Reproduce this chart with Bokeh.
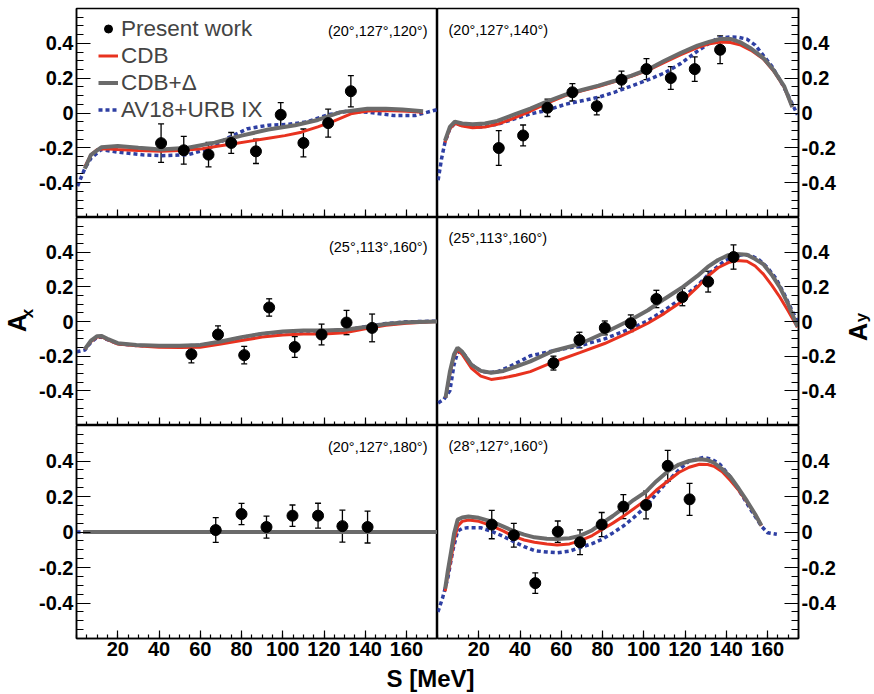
import math
from bokeh.plotting import figure
from bokeh.layouts import column, row
from bokeh.models import (Range1d, FixedTicker, Label, Legend, LegendItem,
                          Whisker, TeeHead, ColumnDataSource)
from bokeh.embed import file_html
from bokeh.resources import INLINE

# ---------------- axis ticks ----------------
S_TICKS = [20, 40, 60, 80, 100, 120, 140, 160]
S_TICK_LABELS = ["20", "40", "60", "80", "100", "120", "140", "160"]
A_TICKS = [-0.4, -0.2, 0.0, 0.2, 0.4]
A_TICK_LABELS = ["-0.4", "-0.2", "0", "0.2", "0.4"]
S_MINOR = [5 * i for i in range(36)]
A_MINOR = [round(-0.6 + 0.05 * i, 2) for i in range(25)]

PANEL_TITLES = ["(20°,127°,120°)", "(20°,127°,140°)",
                "(25°,113°,160°)", "(25°,113°,160°)",
                "(20°,127°,180°)", "(28°,127°,160°)"]

# ---------------- panel 1: A_x (20,127,120) ----------------
p1_s = [41, 52, 64, 75, 87, 99, 110, 122, 133]
p1_a = [-0.173, -0.214, -0.239, -0.172, -0.22, -0.01, -0.172, -0.058, 0.125]
p1_e = [0.11, 0.08, 0.07, 0.06, 0.07, 0.07, 0.08, 0.08, 0.09]
p1_cdb_s = [4, 7, 10, 14, 20, 30, 41, 50, 61, 69, 77, 85, 93, 101, 109, 117, 125, 133, 141, 150, 160, 168]
p1_cdb = [-0.31, -0.24, -0.21, -0.205, -0.21, -0.215, -0.22, -0.215, -0.205, -0.19, -0.175, -0.16,
          -0.145, -0.13, -0.11, -0.08, -0.045, -0.005, 0.012, 0.015, 0.01, 0.005]
p1_cdbd_s = [4, 7, 12, 20, 30, 41, 54, 67, 75, 80, 93, 106, 117, 128, 141, 150, 158, 168]
p1_cdbd = [-0.32, -0.24, -0.197, -0.19, -0.2, -0.21, -0.2, -0.17, -0.145, -0.13, -0.095, -0.07,
           -0.04, 0.005, 0.025, 0.025, 0.02, 0.01]
p1_av_s = [0.5, 4, 7, 12, 20, 32, 41, 54, 64, 74, 83, 93, 103, 112, 122, 131, 141, 154, 164, 175]
p1_av = [-0.42, -0.32, -0.26, -0.21, -0.225, -0.24, -0.245, -0.24, -0.205, -0.14, -0.09, -0.07,
         -0.065, -0.05, -0.01, 0.01, 0.005, -0.015, -0.015, 0.02]

# ---------------- panel 2: A_y (20,127,140) ----------------
p2_s = [29.7, 41.5, 53.3, 65.4, 77.2, 89.2, 101.3, 113.1, 124.7, 137]
p2_a = [-0.201, -0.129, 0.03, 0.119, 0.039, 0.191, 0.252, 0.201, 0.252, 0.363]
p2_e = [0.10, 0.06, 0.05, 0.05, 0.05, 0.05, 0.06, 0.065, 0.07, 0.08]
p2_cdb_s = [3.6, 6, 8.4, 12, 17, 23, 29, 37, 45, 53, 62, 70, 78, 86, 94, 102, 110, 118, 126, 132,
            137, 142, 147, 152, 158, 163, 168, 172]
p2_cdb = [-0.17, -0.09, -0.06, -0.075, -0.085, -0.08, -0.065, -0.03, 0.01, 0.055, 0.1, 0.128, 0.152,
          0.18, 0.21, 0.245, 0.29, 0.335, 0.375, 0.398, 0.408, 0.405, 0.39, 0.36, 0.31, 0.24, 0.15, 0.035]
p2_cdbd_s = p2_cdb_s
p2_cdbd = [-0.16, -0.08, -0.05, -0.06, -0.065, -0.06, -0.045, -0.01, 0.025, 0.065, 0.105, 0.132, 0.157,
           0.185, 0.215, 0.25, 0.3, 0.345, 0.387, 0.41, 0.425, 0.425, 0.405, 0.37, 0.315, 0.245, 0.155, 0.035]
p2_av_s = [0.3, 2, 3.6, 6, 8.4, 12, 17, 21, 29, 37, 45, 53, 62, 70, 78, 86, 94, 102, 110, 118, 126,
           131, 136, 142, 146, 150, 154, 158, 162, 166, 170, 174.5]
p2_av = [-0.386, -0.26, -0.17, -0.09, -0.06, -0.07, -0.08, -0.08, -0.065, -0.035, -0.005, 0.015, 0.05,
         0.07, 0.09, 0.12, 0.155, 0.19, 0.23, 0.285, 0.355, 0.395, 0.43, 0.437, 0.435, 0.424, 0.39,
         0.33, 0.27, 0.19, 0.1, -0.01]

# ---------------- panel 3: A_x (25,113,160) ----------------
p3_s = [55.7, 68.6, 81.3, 93.4, 105.8, 118.8, 130.9, 143.3]
p3_a = [-0.189, -0.075, -0.194, 0.081, -0.147, -0.075, -0.006, -0.037]
p3_e = [0.05, 0.05, 0.05, 0.05, 0.06, 0.06, 0.07, 0.08]
p3_cdb_s = [4, 7, 10, 12, 15, 20, 29, 40, 50, 60, 70, 80, 90, 100, 110, 120, 130, 140, 150, 160, 175]
p3_cdb = [-0.16, -0.115, -0.09, -0.088, -0.105, -0.13, -0.14, -0.148, -0.15, -0.148, -0.13, -0.11,
          -0.09, -0.078, -0.072, -0.072, -0.065, -0.042, -0.022, -0.01, 0.0]
p3_cdbd_s = p3_cdb_s
p3_cdbd = [-0.16, -0.11, -0.085, -0.083, -0.1, -0.125, -0.135, -0.14, -0.14, -0.135, -0.115, -0.09,
           -0.07, -0.058, -0.052, -0.052, -0.048, -0.032, -0.015, -0.005, 0.0]
p3_av_s = [0, 4, 7, 10, 12, 15, 20, 29, 40, 50, 60, 70, 80, 90, 100, 110, 120, 130, 140, 150, 160, 175]
p3_av = [-0.175, -0.165, -0.12, -0.092, -0.09, -0.105, -0.128, -0.138, -0.142, -0.142, -0.137, -0.118,
         -0.092, -0.072, -0.06, -0.055, -0.055, -0.05, -0.03, -0.012, -0.002, 0.002]

# ---------------- panel 4: A_y (25,113,160) ----------------
p4_s = [56.2, 68.8, 81.1, 93.7, 106.1, 118.7, 131.2, 143.5]
p4_a = [-0.24, -0.107, -0.037, -0.01, 0.13, 0.141, 0.23, 0.372]
p4_e = [0.04, 0.045, 0.04, 0.048, 0.05, 0.05, 0.06, 0.07]
p4_cdb_s = [3.9, 6, 8, 9.7, 12, 16.5, 21, 26, 32, 38, 45, 56, 69, 81, 94, 102, 110, 119, 126, 131,
            136, 141, 145, 150, 154, 158, 162, 166, 170, 174.5]
p4_cdb = [-0.44, -0.3, -0.2, -0.164, -0.19, -0.27, -0.315, -0.334, -0.325, -0.31, -0.289, -0.235,
          -0.18, -0.127, -0.057, -0.01, 0.047, 0.12, 0.198, 0.26, 0.31, 0.34, 0.352, 0.348, 0.32,
          0.273, 0.21, 0.14, 0.06, -0.033]
p4_cdbd_s = p4_cdb_s
p4_cdbd = [-0.44, -0.29, -0.19, -0.151, -0.175, -0.25, -0.285, -0.296, -0.285, -0.26, -0.23, -0.17,
           -0.13, -0.065, 0.012, 0.065, 0.13, 0.2, 0.263, 0.315, 0.355, 0.383, 0.39, 0.385, 0.36,
           0.33, 0.27, 0.197, 0.1, -0.03]
p4_av_s = [0.3, 3, 6, 8, 9.7, 11, 13, 16.5, 21, 25, 29, 35, 45, 56, 69, 81, 94, 102, 110, 119, 126,
           132, 139, 144, 148, 152, 156, 160, 164, 168, 172, 174.5]
p4_av = [-0.47, -0.45, -0.40, -0.25, -0.18, -0.17, -0.19, -0.25, -0.285, -0.295, -0.29, -0.26, -0.198,
         -0.17, -0.14, -0.10, -0.04, 0.005, 0.065, 0.14, 0.207, 0.28, 0.348, 0.375, 0.386, 0.38,
         0.355, 0.31, 0.25, 0.16, 0.06, 0.0]

# ---------------- panel 5: A_x (20,127,180) ----------------
p5_s = [67.5, 80, 92.1, 104.7, 117.1, 128.9, 141.1]
p5_a = [0.011, 0.101, 0.028, 0.092, 0.092, 0.033, 0.028]
p5_e = [0.07, 0.06, 0.062, 0.06, 0.07, 0.09, 0.09]
p5_cdb_s = [3.2, 175]
p5_cdb = [0.0, 0.0]
p5_cdbd_s = [3.2, 175]
p5_cdbd = [0.0, 0.0]
p5_av_s = [0, 175]
p5_av = [0.0, 0.0]

# ---------------- panel 6: A_y (28,127,160) ----------------
p6_s = [26.3, 37, 47.4, 58.3, 69.1, 79.6, 90.1, 101.1, 111.6, 122.2]
p6_a = [0.042, -0.018, -0.288, 0.002, -0.058, 0.042, 0.143, 0.152, 0.373, 0.184]
p6_e = [0.08, 0.067, 0.058, 0.06, 0.07, 0.068, 0.068, 0.078, 0.087, 0.09]
p6_cdb_s = [3.7, 5, 6.6, 8, 9.8, 12, 15, 20, 26, 32, 37, 42, 47, 53, 58, 64, 69, 75, 80, 85, 90, 95,
            101, 106, 112, 117, 122, 127, 131, 134, 138, 142, 146, 150, 154, 157]
p6_cdb = [-0.334, -0.24, -0.15, -0.05, 0.033, 0.06, 0.068, 0.06, 0.036, 0.005, -0.025, -0.045, -0.058,
          -0.068, -0.073, -0.067, -0.05, -0.02, 0.015, 0.05, 0.088, 0.13, 0.18, 0.235, 0.29, 0.335,
          0.365, 0.382, 0.38, 0.37, 0.34, 0.29, 0.235, 0.17, 0.1, 0.035]
p6_cdbd_s = p6_cdb_s
p6_cdbd = [-0.32, -0.22, -0.11, -0.01, 0.07, 0.082, 0.087, 0.08, 0.06, 0.03, 0.005, -0.015, -0.03,
           -0.038, -0.04, -0.035, -0.022, 0.01, 0.051, 0.09, 0.134, 0.18, 0.226, 0.285, 0.345, 0.38,
           0.40, 0.41, 0.405, 0.39, 0.355, 0.31, 0.245, 0.175, 0.1, 0.037]
p6_av_s = [0.2, 2.5, 5, 7.5, 9.8, 12, 14.6, 21, 26, 32, 37, 42, 47, 53, 58, 64, 69, 75, 80, 85, 90,
           95, 101, 106, 112, 117, 122, 129, 133, 137, 141, 145, 148, 151.6, 155, 157, 160, 164.5]
p6_av = [-0.45, -0.37, -0.26, -0.1, 0.006, 0.02, 0.024, 0.024, 0.005, -0.025, -0.055, -0.082, -0.105,
         -0.113, -0.117, -0.108, -0.088, -0.065, -0.04, -0.005, 0.033, 0.08, 0.143, 0.215, 0.29,
         0.35, 0.40, 0.42, 0.41, 0.38, 0.325, 0.255, 0.2, 0.13, 0.07, 0.033, -0.004, -0.013]

PANELS = [
    (p1_s, p1_a, p1_e, p1_cdb_s, p1_cdb, p1_cdbd_s, p1_cdbd, p1_av_s, p1_av),
    (p2_s, p2_a, p2_e, p2_cdb_s, p2_cdb, p2_cdbd_s, p2_cdbd, p2_av_s, p2_av),
    (p3_s, p3_a, p3_e, p3_cdb_s, p3_cdb, p3_cdbd_s, p3_cdbd, p3_av_s, p3_av),
    (p4_s, p4_a, p4_e, p4_cdb_s, p4_cdb, p4_cdbd_s, p4_cdbd, p4_av_s, p4_av),
    (p5_s, p5_a, p5_e, p5_cdb_s, p5_cdb, p5_cdbd_s, p5_cdbd, p5_av_s, p5_av),
    (p6_s, p6_a, p6_e, p6_cdb_s, p6_cdb, p6_cdbd_s, p6_cdbd, p6_av_s, p6_av),
]

# ---------------- styling / layout ----------------
RED = "#e8321f"
GRAY = "#6b6b6b"
BLUE = "#2e3fa3"
FONT = "Liberation Sans"
FRAME_W = 361
FRAME_H = [209, 208, 213]
TITLE_DY = [22, 21, 29, 20, 21, 20]   # distance of the title's centre below the frame top
LEFT_LAB_W = 36
RIGHT_LAB_W = 34
BORDER_L = 39
BORDER_R = 43
BORDER_T = 8
BORDER_B = 27
GRID_H = BORDER_T + sum(FRAME_H) + BORDER_B
SIDE_H = GRID_H - 40
XLAB_H = 28


def style_axes(p, r, c):
    xa = p.xaxis[0]
    xa.axis_label = None
    xa.ticker = FixedTicker(ticks=S_TICKS, minor_ticks=S_MINOR)
    xa.major_tick_in, xa.major_tick_out = 8, 0
    xa.minor_tick_in, xa.minor_tick_out = 4, 0
    xa.axis_line_color = "black"
    xa.axis_line_width = 1.5
    xa.major_tick_line_color = "black"
    xa.minor_tick_line_color = "black"
    xa.major_tick_line_width = 1.2
    xa.minor_tick_line_width = 1.2
    if r == 2:
        xa.major_label_overrides = dict(zip(S_TICKS, S_TICK_LABELS))
        xa.major_label_text_font = FONT
        xa.major_label_text_font_style = "bold"
        xa.major_label_text_font_size = "20px"
        xa.major_label_text_color = "black"
        xa.major_label_standoff = 3
    else:
        xa.fixed_location = -0.6
        xa.major_label_overrides = {t: "" for t in S_TICKS}
        xa.major_label_standoff = 0
    ya = p.yaxis[0]
    ya.axis_label = None
    ya.ticker = FixedTicker(ticks=A_TICKS, minor_ticks=A_MINOR)
    ya.major_label_overrides = dict(zip(A_TICKS, A_TICK_LABELS))
    ya.major_tick_in, ya.major_tick_out = 14, 0
    ya.minor_tick_in, ya.minor_tick_out = 7, 0
    ya.axis_line_color = "black"
    ya.axis_line_width = 1.5
    ya.major_tick_line_color = "black"
    ya.minor_tick_line_color = "black"
    ya.major_tick_line_width = 1.2
    ya.minor_tick_line_width = 1.2
    ya.major_label_text_font = FONT
    ya.major_label_text_font_style = "bold"
    ya.major_label_text_font_size = "20px"
    ya.major_label_text_color = "black"
    ya.major_label_standoff = 3


def make_panel(idx):
    r, c = divmod(idx, 2)
    s, a, e, cs, cv, ds, dv, vs, vv = PANELS[idx]
    p = figure(title=None, frame_width=FRAME_W, frame_height=FRAME_H[r],
               x_range=Range1d(0, 175), y_range=Range1d(-0.6, 0.6),
               x_axis_location="below", y_axis_location="left" if c == 0 else "right",
               output_backend="svg", toolbar_location=None,
               min_border_left=BORDER_L if c == 0 else 0,
               min_border_right=0 if c == 0 else BORDER_R,
               min_border_top=BORDER_T if r == 0 else 0,
               min_border_bottom=BORDER_B if r == 2 else 0)
    p.grid.visible = False
    p.outline_line_color = "black"
    p.outline_line_width = 1.5
    p.background_fill_color = "white"
    p.border_fill_color = "white"
    style_axes(p, r, c)

    r_av = p.line(vs, vv, line_color=BLUE, line_width=3.5, line_dash="4 3")
    r_cdb = p.line(cs, cv, line_color=RED, line_width=3)
    r_cdbd = p.line(ds, dv, line_color=GRAY, line_width=4)

    src = ColumnDataSource(dict(s=s, a=a,
                                lo=[ai - ei for ai, ei in zip(a, e)],
                                hi=[ai + ei for ai, ei in zip(a, e)]))
    p.add_layout(Whisker(source=src, base="s", lower="lo", upper="hi",
                         line_color="black", line_width=1.3,
                         upper_head=TeeHead(size=6, line_color="black", line_width=1.3),
                         lower_head=TeeHead(size=6, line_color="black", line_width=1.3)))
    r_pts = p.scatter("s", "a", source=src, size=11, color="black")

    title = PANEL_TITLES[idx]
    if c == 0:
        p.add_layout(Label(x=FRAME_W - 10, y=FRAME_H[r] - TITLE_DY[idx], x_units="screen",
                           y_units="screen", text=title, text_align="right",
                           text_baseline="middle", text_font=FONT, text_font_size="14.5px",
                           text_color="black"))
    else:
        p.add_layout(Label(x=11, y=FRAME_H[r] - TITLE_DY[idx], x_units="screen",
                           y_units="screen", text=title, text_align="left",
                           text_baseline="middle", text_font=FONT, text_font_size="14.5px",
                           text_color="black"))

    if idx == 0:
        legend = Legend(items=[LegendItem(label="Present work", renderers=[r_pts]),
                               LegendItem(label="CDB", renderers=[r_cdb]),
                               LegendItem(label="CDB+Δ", renderers=[r_cdbd]),
                               LegendItem(label="AV18+URB IX", renderers=[r_av])],
                        location=(22, 94), orientation="vertical",
                        border_line_color=None, background_fill_alpha=0,
                        label_text_font=FONT, label_text_font_size="22.5px",
                        glyph_width=20, glyph_height=27, label_height=27,
                        spacing=0, padding=0, margin=0, label_standoff=3)
        p.add_layout(legend)
    return p


def blank_fig(w, h, flip=True):
    yr = Range1d(h, 0) if flip else Range1d(0, h)
    f = figure(title=None, frame_width=w, frame_height=h, x_range=Range1d(0, w), y_range=yr,
               x_axis_location=None, y_axis_location=None, output_backend="svg",
               toolbar_location=None, min_border=0, min_border_left=0, min_border_right=0,
               min_border_top=0, min_border_bottom=0)
    f.outline_line_color = None
    f.grid.visible = False
    f.background_fill_color = "white"
    f.border_fill_color = "white"
    return f


figs = [make_panel(i) for i in range(6)]

# y-axis titles (A_x on the left, A_y on the right)
left_lab = blank_fig(LEFT_LAB_W, SIDE_H)
left_lab.add_layout(Label(x=16.5, y=322.5, text="A", angle=math.pi / 2, text_align="center",
                          text_baseline="middle", text_font=FONT, text_font_style="bold",
                          text_font_size="25px", text_color="black"))
left_lab.add_layout(Label(x=27, y=313, text="x", angle=math.pi / 2, text_align="center",
                          text_baseline="middle", text_font=FONT, text_font_style="bold",
                          text_font_size="17px", text_color="black"))
right_lab = blank_fig(RIGHT_LAB_W, SIDE_H)
right_lab.add_layout(Label(x=16, y=331.5, text="A", angle=math.pi / 2, text_align="center",
                           text_baseline="middle", text_font=FONT, text_font_style="bold",
                           text_font_size="25px", text_color="black"))
right_lab.add_layout(Label(x=20, y=317, text="y", angle=math.pi / 2, text_align="center",
                           text_baseline="middle", text_font=FONT, text_font_style="bold",
                           text_font_size="17px", text_color="black"))

# x-axis title spanning both columns
total_w = LEFT_LAB_W + BORDER_L + 2 * FRAME_W + BORDER_R + RIGHT_LAB_W
xl = blank_fig(total_w, XLAB_H, flip=False)
xl.add_layout(Label(x=430, y=15, text="S [MeV]", text_align="center",
                    text_baseline="middle", text_font=FONT, text_font_style="bold",
                    text_font_size="24px", text_color="black"))

grid = column(row(figs[0], figs[1], spacing=0),
              row(figs[2], figs[3], spacing=0),
              row(figs[4], figs[5], spacing=0), spacing=0)
layout = column(row(left_lab, grid, right_lab, spacing=0), xl, spacing=0)

with open("out.html", "w") as f:
    f.write(file_html(layout, INLINE))
